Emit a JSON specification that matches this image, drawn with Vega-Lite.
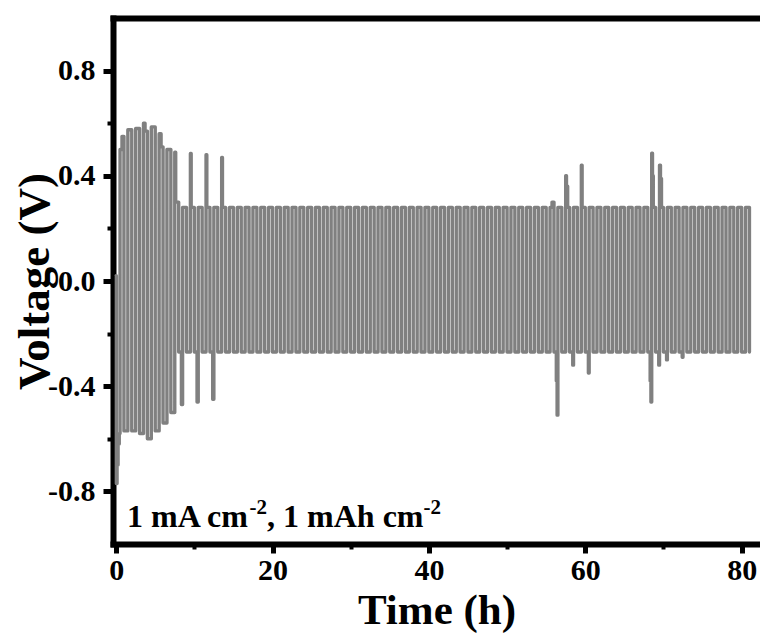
{
  "$schema": "https://vega.github.io/schema/vega-lite/v6.json",
  "width": 647,
  "height": 526,
  "autosize": {"type": "none"},
  "padding": {"left": 113, "top": 18, "right": 0, "bottom": 91},
  "background": "white",
  "config": {"view": {"stroke": null}},
  "layer": [
    {
      "data": {"values": [
        {"t":0,"v":0.02},{"t":0.03,"v":-0.77},{"t":0.12,"v":-0.7},{"t":0.25,"v":-0.62},{"t":0.4,"v":-0.58},
        {"t":0.5,"v":0.5},{"t":0.75,"v":0.55},{"t":1,"v":-0.57},{"t":1.5,"v":0.575},{"t":2,"v":-0.57},
        {"t":2.5,"v":0.58},{"t":3,"v":-0.58},{"t":3.5,"v":0.6},{"t":3.7,"v":0.57},
        {"t":4,"v":-0.6},{"t":4.5,"v":0.586},{"t":5,"v":-0.57},{"t":5.5,"v":0.56},{"t":5.75,"v":0.51},
        {"t":6,"v":-0.54},{"t":6.5,"v":0.5},{"t":7,"v":-0.5},{"t":7.5,"v":0.49},{"t":7.62,"v":0.3},
        {"t":8,"v":-0.27},{"t":8.35,"v":-0.47},
        {"t":8.5,"v":0.28},{"t":9,"v":-0.27},{"t":9.5,"v":0.485},{"t":9.6,"v":0.28},
        {"t":10,"v":-0.27},{"t":10.35,"v":-0.46},{"t":10.5,"v":0.28},{"t":11,"v":-0.27},
        {"t":11.5,"v":0.48},{"t":11.6,"v":0.28},{"t":12,"v":-0.27},{"t":12.35,"v":-0.45},{"t":12.5,"v":0.28},
        {"t":13,"v":-0.27},{"t":13.5,"v":0.47},{"t":13.6,"v":0.28},
        {"t":14,"v":-0.27},{"t":14.5,"v":0.28},{"t":15,"v":-0.27},{"t":15.5,"v":0.28},{"t":16,"v":-0.27},
        {"t":16.5,"v":0.28},{"t":17,"v":-0.27},{"t":17.5,"v":0.28},{"t":18,"v":-0.27},{"t":18.5,"v":0.28},{"t":19,"v":-0.27},
        {"t":19.5,"v":0.28},{"t":20,"v":-0.27},{"t":20.5,"v":0.28},{"t":21,"v":-0.27},{"t":21.5,"v":0.28},{"t":22,"v":-0.27},
        {"t":22.5,"v":0.28},{"t":23,"v":-0.27},{"t":23.5,"v":0.28},{"t":24,"v":-0.27},{"t":24.5,"v":0.28},{"t":25,"v":-0.27},
        {"t":25.5,"v":0.28},{"t":26,"v":-0.27},{"t":26.5,"v":0.28},{"t":27,"v":-0.27},{"t":27.5,"v":0.28},{"t":28,"v":-0.27},
        {"t":28.5,"v":0.28},{"t":29,"v":-0.27},{"t":29.5,"v":0.28},{"t":30,"v":-0.27},{"t":30.5,"v":0.28},{"t":31,"v":-0.27},
        {"t":31.5,"v":0.28},{"t":32,"v":-0.27},{"t":32.5,"v":0.28},{"t":33,"v":-0.27},{"t":33.5,"v":0.28},{"t":34,"v":-0.27},
        {"t":34.5,"v":0.28},{"t":35,"v":-0.27},{"t":35.5,"v":0.28},{"t":36,"v":-0.27},{"t":36.5,"v":0.28},{"t":37,"v":-0.27},
        {"t":37.5,"v":0.28},{"t":38,"v":-0.27},{"t":38.5,"v":0.28},{"t":39,"v":-0.27},{"t":39.5,"v":0.28},{"t":40,"v":-0.27},
        {"t":40.5,"v":0.28},{"t":41,"v":-0.27},{"t":41.5,"v":0.28},{"t":42,"v":-0.27},{"t":42.5,"v":0.28},{"t":43,"v":-0.27},
        {"t":43.5,"v":0.28},{"t":44,"v":-0.27},{"t":44.5,"v":0.28},{"t":45,"v":-0.27},{"t":45.5,"v":0.28},{"t":46,"v":-0.27},
        {"t":46.5,"v":0.28},{"t":47,"v":-0.27},{"t":47.5,"v":0.28},{"t":48,"v":-0.27},{"t":48.5,"v":0.28},{"t":49,"v":-0.27},
        {"t":49.5,"v":0.28},{"t":50,"v":-0.27},{"t":50.5,"v":0.28},{"t":51,"v":-0.27},{"t":51.5,"v":0.28},{"t":52,"v":-0.27},
        {"t":52.5,"v":0.28},{"t":53,"v":-0.27},{"t":53.5,"v":0.28},{"t":54,"v":-0.27},{"t":54.5,"v":0.28},{"t":55,"v":-0.27},
        {"t":55.5,"v":0.28},{"t":55.75,"v":0.3},
        {"t":56,"v":-0.27},{"t":56.3,"v":-0.38},{"t":56.4,"v":-0.51},
        {"t":56.5,"v":0.28},{"t":57,"v":-0.27},
        {"t":57.5,"v":0.4},{"t":57.6,"v":0.36},{"t":57.75,"v":0.28},
        {"t":58,"v":-0.27},{"t":58.4,"v":-0.32},
        {"t":58.5,"v":0.28},{"t":59,"v":-0.27},
        {"t":59.5,"v":0.44},{"t":59.6,"v":0.28},
        {"t":60,"v":-0.27},{"t":60.4,"v":-0.35},
        {"t":60.5,"v":0.28},{"t":61,"v":-0.27},{"t":61.5,"v":0.28},{"t":62,"v":-0.27},{"t":62.5,"v":0.28},{"t":63,"v":-0.27},
        {"t":63.5,"v":0.28},{"t":64,"v":-0.27},{"t":64.5,"v":0.28},{"t":65,"v":-0.27},{"t":65.5,"v":0.28},{"t":66,"v":-0.27},
        {"t":66.5,"v":0.28},{"t":67,"v":-0.27},{"t":67.5,"v":0.28},
        {"t":68,"v":-0.27},{"t":68.3,"v":-0.38},{"t":68.4,"v":-0.46},
        {"t":68.5,"v":0.486},{"t":68.6,"v":0.4},{"t":68.7,"v":0.28},
        {"t":69,"v":-0.27},{"t":69.4,"v":-0.32},
        {"t":69.5,"v":0.44},{"t":69.62,"v":0.39},{"t":69.75,"v":0.28},
        {"t":70,"v":-0.27},{"t":70.4,"v":-0.3},
        {"t":70.5,"v":0.28},{"t":71,"v":-0.27},{"t":71.5,"v":0.28},
        {"t":72,"v":-0.27},{"t":72.4,"v":-0.29},
        {"t":72.5,"v":0.28},{"t":73,"v":-0.27},{"t":73.5,"v":0.28},{"t":74,"v":-0.27},{"t":74.5,"v":0.28},{"t":75,"v":-0.27},
        {"t":75.5,"v":0.28},{"t":76,"v":-0.27},{"t":76.5,"v":0.28},{"t":77,"v":-0.27},{"t":77.5,"v":0.28},{"t":78,"v":-0.27},
        {"t":78.5,"v":0.28},{"t":79,"v":-0.27},{"t":79.5,"v":0.28},{"t":80,"v":-0.27},{"t":80.5,"v":0.28},{"t":81,"v":-0.27}
      ]},
      "mark": {"type": "line", "interpolate": "step-after", "color": "#808080", "strokeWidth": 3.4, "strokeJoin": "round", "strokeCap": "round"},
      "encoding": {
        "x": {"field": "t", "type": "quantitative",
          "scale": {"domain": [-0.4, 82.35], "nice": false, "zero": false},
          "axis": {"orient": "bottom", "values": [0, 20, 40, 60, 80], "format": "d", "grid": false,
            "labelFont": "Liberation Serif", "labelFontWeight": "bold", "labelFontSize": 30, "labelColor": "black",
            "labelPadding": 2, "labelFlush": false, "labelOverlap": false, "labelBound": false,
            "tickColor": "black", "tickWidth": 5, "tickSize": 9,
            "domainColor": "black", "domainWidth": 6, "domainCap": "square",
            "title": "Time (h)", "titleFont": "Liberation Serif", "titleFontWeight": "bold", "titleFontSize": 43, "titleColor": "black", "titlePadding": 4}},
        "y": {"field": "v", "type": "quantitative",
          "scale": {"domain": [-1, 1], "nice": false, "zero": false},
          "axis": {"orient": "left", "values": [-0.8, -0.4, 0, 0.4, 0.8], "grid": false,
            "labelExpr": "datum.value < 0 ? '-' + format(-datum.value, '.1f') : format(datum.value, '.1f')",
            "labelFont": "Liberation Serif", "labelFontWeight": "bold", "labelFontSize": 30, "labelColor": "black",
            "labelPadding": 8, "labelFlush": false, "labelOverlap": false, "labelBound": false,
            "tickColor": "black", "tickWidth": 5, "tickSize": 10,
            "domainColor": "black", "domainWidth": 6, "domainCap": "square",
            "title": "Voltage (V)", "titleFont": "Liberation Serif", "titleFontWeight": "bold", "titleFontSize": 45, "titleColor": "black", "titlePadding": -10}}
      }
    },
    {
      "data": {"values": [{}]},
      "mark": {"type": "point", "opacity": 0},
      "encoding": {
        "x": {"datum": 0, "type": "quantitative",
          "scale": {"domain": [-0.4, 82.35], "nice": false, "zero": false},
          "axis": {"orient": "bottom", "values": [10, 30, 50, 70], "labels": false, "domain": false, "grid": false, "title": null,
            "tickColor": "black", "tickWidth": 4, "tickSize": 5}},
        "y": {"datum": 0, "type": "quantitative",
          "scale": {"domain": [-1, 1], "nice": false, "zero": false},
          "axis": {"orient": "left", "values": [-0.6, -0.2, 0.2, 0.6], "labels": false, "domain": false, "grid": false, "title": null,
            "tickColor": "black", "tickWidth": 4, "tickSize": 6}}
      }
    },
    {
      "data": {"values": [{}]},
      "mark": {"type": "point", "opacity": 0},
      "encoding": {
        "x": {"datum": 0, "type": "quantitative",
          "scale": {"domain": [-0.4, 82.35], "nice": false, "zero": false},
          "axis": {"orient": "top", "labels": false, "ticks": false, "grid": false, "title": null,
            "domainColor": "black", "domainWidth": 6, "domainCap": "square"}},
        "y": {"datum": 0, "type": "quantitative",
          "scale": {"domain": [-1, 1], "nice": false, "zero": false}, "axis": null}
      }
    },
    {
      "data": {"values": [{"label": "1 mA cm", "t": 1.39}, {"label": ", 1 mAh cm", "t": 19.31}]},
      "mark": {"type": "text", "align": "left", "baseline": "alphabetic", "font": "Liberation Serif", "fontWeight": "bold", "fontSize": 32, "color": "black"},
      "encoding": {
        "x": {"field": "t", "type": "quantitative", "scale": {"domain": [-0.4, 82.35], "nice": false, "zero": false}, "axis": null},
        "y": {"datum": -0.935, "type": "quantitative", "scale": {"domain": [-1, 1], "nice": false, "zero": false}, "axis": null},
        "text": {"field": "label"}
      }
    },
    {
      "data": {"values": [{"label": "-2", "t": 17.07}, {"label": "-2", "t": 39.31}]},
      "mark": {"type": "text", "align": "left", "baseline": "alphabetic", "font": "Liberation Serif", "fontWeight": "bold", "fontSize": 21, "color": "black"},
      "encoding": {
        "x": {"field": "t", "type": "quantitative", "scale": {"domain": [-0.4, 82.35], "nice": false, "zero": false}, "axis": null},
        "y": {"datum": -0.885, "type": "quantitative", "scale": {"domain": [-1, 1], "nice": false, "zero": false}, "axis": null},
        "text": {"field": "label"}
      }
    }
  ],
  "resolve": {"axis": {"x": "independent", "y": "independent"}}
}
